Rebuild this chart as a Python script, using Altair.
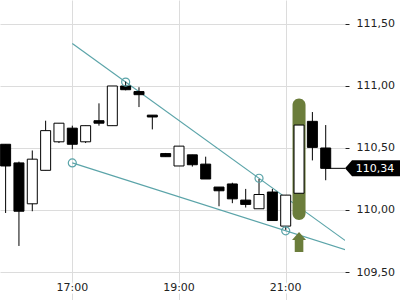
import altair as alt
import pandas as pd

# ---- candle data (15-minute candles, time in decimal hours) ----
times = [15.75, 16.0, 16.25, 16.5, 16.75, 17.0, 17.25, 17.5, 17.75, 18.0, 18.25, 18.5, 18.75,
         19.0, 19.25, 19.5, 19.75, 20.0, 20.25, 20.5, 20.75, 21.0, 21.25, 21.5, 21.75]
opens = [110.53, 110.38, 110.05, 110.32, 110.55, 110.66, 110.55, 110.72, 110.68, 111.00, 110.955, 110.765, 110.455,
         110.355, 110.445, 110.37, 110.185, 110.21, 110.08, 110.01, 110.145, 109.87, 110.135, 110.715, 110.50]
highs = [110.53, 110.39, 110.48, 110.72, 110.70, 110.68, 110.68, 110.86, 111.00, 111.035, 110.99, 110.765, 110.46,
         110.515, 110.445, 110.43, 110.185, 110.22, 110.17, 110.25, 110.17, 110.12, 110.685, 110.79, 110.685]
lows = [109.976, 109.71, 109.99, 110.32, 110.54, 110.49, 110.54, 110.68, 110.68, 110.965, 110.83, 110.65, 110.43,
        110.355, 110.35, 110.25, 110.03, 110.055, 110.02, 110.01, 109.915, 109.84, 110.135, 110.40, 110.24]
closes = [110.355, 109.99, 110.41, 110.64, 110.70, 110.53, 110.68, 110.70, 111.00, 110.97, 110.93, 110.75, 110.43,
          110.515, 110.365, 110.25, 110.155, 110.09, 110.045, 110.125, 109.915, 110.12, 110.685, 110.505, 110.336]

# ---- trend lines and markers ----
line_names = ["upper", "upper", "lower", "lower"]
line_times = [17.0, 22.25, 17.0, 22.25]
line_prices = [111.342, 109.712, 110.38, 109.661]
circle_times = [18.0, 20.5, 17.0, 21.0]
circle_prices = [111.032, 110.256, 110.38, 109.832]

# ---- highlight pill and arrow ----
hl_time = [21.25]
hl_top = [110.90]
hl_bottom = [109.92]
arrow_time = [21.25]
arrow_price = [109.742]

# ---- last price ----
last_time = [21.75]
last_price = [110.336]
last_label = ["110,34"]

# ---- axes ----
xtick_hours = [17, 19, 21]
xtick_labels = ["17:00", "19:00", "21:00"]
ytick_values = [109.5, 110.0, 110.5, 111.0, 111.5]

FONT = "DejaVu Sans"
TEAL = "#5ba4a9"
OLIVE = "#6b7d3b"

candles = pd.DataFrame({"t": times, "o": opens, "h": highs, "l": lows, "c": closes})
candles["top"] = candles[["o", "c"]].max(axis=1)
candles["bot"] = candles[["o", "c"]].min(axis=1)
candles["dir"] = ["up" if c >= o else "down" for o, c in zip(opens, closes)]

lines = pd.DataFrame({"name": line_names, "t": line_times, "p": line_prices})
circles = pd.DataFrame({"t": circle_times, "p": circle_prices})
pill = pd.DataFrame({"t": hl_time, "top": hl_top, "bot": hl_bottom})
arrow = pd.DataFrame({"t": arrow_time, "p": arrow_price})
last = pd.DataFrame({"t": last_time, "p": last_price, "label": last_label})
xt = pd.DataFrame({"t": xtick_hours, "label": xtick_labels})

xs = alt.Scale(domain=[15.6448, 22.1115], nice=False, zero=False, padding=0)
ys = alt.Scale(domain=[109.2742, 111.6935], nice=False, zero=False, padding=0)

xaxis = alt.Axis(values=xtick_hours, labels=False, ticks=False, domain=False, grid=True,
                 gridColor="#dcdcdc", gridWidth=1, title=None)
yaxis = alt.Axis(orient="right", values=ytick_values, grid=True, gridColor="#dcdcdc", gridWidth=1,
                 domain=False, tickSize=4, tickColor="#222222", labelPadding=7,
                 labelFont=FONT, labelFontSize=11, labelColor="#222222", title=None,
                 labelExpr="replace(format(datum.value, '.2f'), '.', ',')")


def X(f):
    return alt.X(f"{f}:Q", scale=xs, axis=xaxis)


def Y(f):
    return alt.Y(f"{f}:Q", scale=ys, axis=yaxis)


trend = alt.Chart(lines).mark_line(color=TEAL, strokeWidth=1.2, clip=True).encode(
    x=X("t"), y=Y("p"), detail="name:N")

hl = alt.Chart(pill).mark_bar(width=13, cornerRadius=6.5, color=OLIVE, orient="vertical").encode(
    x=X("t"), y=Y("top"), y2="bot:Q")

wicks = alt.Chart(candles).mark_rule(color="black", strokeWidth=1).encode(
    x=X("t"), y=Y("l"), y2="h:Q")

bodies = alt.Chart(candles).mark_bar(width=10, stroke="black", strokeWidth=1, orient="vertical").encode(
    x=X("t"), y=Y("bot"), y2="top:Q",
    fill=alt.Fill("dir:N", scale=alt.Scale(domain=["up", "down"], range=["white", "black"]), legend=None))

pts = alt.Chart(circles).mark_point(shape="circle", size=64, filled=False, color=TEAL,
                                    strokeWidth=1.2, opacity=1).encode(x=X("t"), y=Y("p"))

arrow_path = "M0,-1 L0.7,-0.2 L0.43,-0.2 L0.43,1 L-0.43,1 L-0.43,-0.2 L-0.7,-0.2 Z"
arr = alt.Chart(arrow).mark_point(shape=arrow_path, size=400, filled=True, color=OLIVE,
                                  opacity=1, strokeWidth=0).encode(x=X("t"), y=Y("p"))

price_line = alt.Chart(last).mark_rule(color="black", strokeWidth=1).encode(
    x=X("t"), x2=alt.value(345), y=Y("p"))

tag_path = "M-1,0 L-0.745,-0.29 L1,-0.29 L1,0.29 L-0.745,0.29 Z"
tag = alt.Chart(last).mark_point(shape=tag_path, size=3025, filled=True, color="black",
                                 opacity=1, strokeWidth=0).encode(x=alt.value(372.5), y=Y("p"))
tag_text = alt.Chart(last).mark_text(font=FONT, fontSize=11, color="white", align="center",
                                     baseline="middle", dy=0.5).encode(
    x=alt.value(375), y=Y("p"), text="label:N")

xhalo = alt.Chart(xt).mark_text(font=FONT, fontSize=11, color="white", stroke="white", strokeWidth=5,
                                strokeJoin="round", align="center", baseline="alphabetic").encode(
    x=X("t"), y=alt.value(291), text="label:N")
xlab = alt.Chart(xt).mark_text(font=FONT, fontSize=11, color="#222222", align="center",
                               baseline="alphabetic").encode(
    x=X("t"), y=alt.value(291), text="label:N")

chart = alt.layer(trend, hl, price_line, wicks, bodies, pts, arr, tag, tag_text, xhalo, xlab).properties(
    width=345, height=300,
    padding={"left": 0, "top": 0, "right": 55, "bottom": 0},
    autosize=alt.AutoSizeParams(type="none"),
    background="white",
).configure_view(strokeWidth=0)

chart.save("out.html", embed_options={"renderer": "svg", "actions": False})
